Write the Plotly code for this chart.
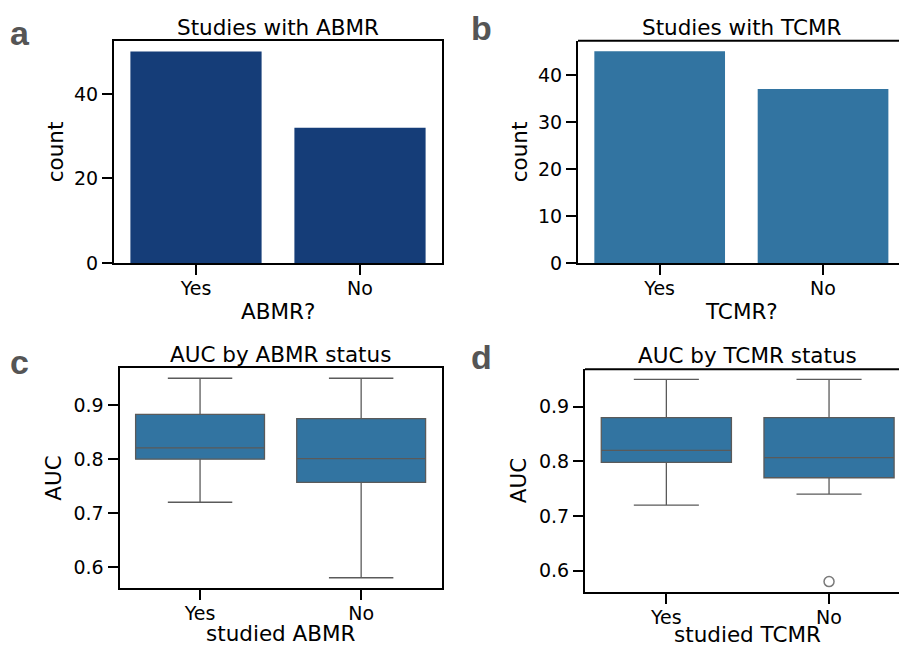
import plotly.graph_objects as go

# ---- data ----
abmr_categories = ["Yes", "No"]
abmr_counts = [50, 32]

tcmr_categories = ["Yes", "No"]
tcmr_counts = [45, 37]

# AUC summary statistics (lower whisker, Q1, median, Q3, upper whisker)
auc_abmr_groups = ["Yes", "No"]
auc_abmr_low = [0.72, 0.58]
auc_abmr_q1 = [0.80, 0.757]
auc_abmr_median = [0.821, 0.801]
auc_abmr_q3 = [0.883, 0.875]
auc_abmr_high = [0.95, 0.95]

auc_tcmr_groups = ["Yes", "No"]
auc_tcmr_low = [0.72, 0.74]
auc_tcmr_q1 = [0.798, 0.77]
auc_tcmr_median = [0.82, 0.807]
auc_tcmr_q3 = [0.88, 0.88]
auc_tcmr_high = [0.95, 0.95]
auc_tcmr_outlier_group = ["No"]
auc_tcmr_outlier_value = [0.58]

# ---- styling ----
W, H = 899, 648
FONT = "DejaVu Sans"
TICK_SIZE = 19
LABEL_SIZE = 21.5
DARK_BLUE = "#153d78"
MID_BLUE = "#3274a1"
LINE_GREY = "#5a5a5a"


def px_x(v):
    return v / W


def px_y(v):
    return 1 - v / H


fig = go.Figure()

# a: ABMR counts
fig.add_trace(go.Bar(x=abmr_categories, y=abmr_counts, marker=dict(color=DARK_BLUE, line=dict(width=0)),
                     width=0.8, xaxis="x", yaxis="y", showlegend=False))
# b: TCMR counts
fig.add_trace(go.Bar(x=tcmr_categories, y=tcmr_counts, marker=dict(color=MID_BLUE, line=dict(width=0)),
                     width=0.8, xaxis="x2", yaxis="y2", showlegend=False))
# c: AUC by ABMR status
fig.add_trace(go.Box(x=auc_abmr_groups, q1=auc_abmr_q1, median=auc_abmr_median, q3=auc_abmr_q3,
                     lowerfence=auc_abmr_low, upperfence=auc_abmr_high,
                     fillcolor=MID_BLUE, line=dict(color=LINE_GREY, width=1.3),
                     width=0.8, whiskerwidth=0.5, boxpoints=False,
                     xaxis="x3", yaxis="y3", showlegend=False))
# d: AUC by TCMR status
fig.add_trace(go.Box(x=auc_tcmr_groups, q1=auc_tcmr_q1, median=auc_tcmr_median, q3=auc_tcmr_q3,
                     lowerfence=auc_tcmr_low, upperfence=auc_tcmr_high,
                     fillcolor=MID_BLUE, line=dict(color=LINE_GREY, width=1.3),
                     width=0.8, whiskerwidth=0.5, boxpoints=False,
                     xaxis="x4", yaxis="y4", showlegend=False))
fig.add_trace(go.Scatter(x=auc_tcmr_outlier_group, y=auc_tcmr_outlier_value, mode="markers",
                         marker=dict(symbol="circle-open", size=10, color="#7a7a7a", line=dict(width=1.5)),
                         xaxis="x4", yaxis="y4", showlegend=False))

axis_common = dict(showline=True, linecolor="black", linewidth=2, ticks="outside", ticklen=10,
                   tickwidth=2, tickcolor="black", showgrid=False, zeroline=False, automargin=False,
                   tickfont=dict(family=FONT, size=TICK_SIZE, color="black"),
                   title_font=dict(family=FONT, size=LABEL_SIZE, color="black"))

# panel geometry (pixels): left, right, top, bottom
geo = {
    "a": (114, 442, 41, 263),
    "b": (578, 899, 40.7, 263.3),
    "c": (119.5, 441.7, 368.3, 587.7),
    "d": (585, 899, 369.3, 591.7),
}

layout = dict(
    width=W, height=H, margin=dict(l=0, r=0, t=0, b=0, autoexpand=False),
    paper_bgcolor="white", plot_bgcolor="white",
    font=dict(family=FONT, color="black"),
    bargap=0.2,
)

cat_order = dict(categoryorder="array", categoryarray=["Yes", "No"])
xtick_extra = dict(ticklabelstandoff=-3)

layout["xaxis"] = dict(axis_common, **cat_order, **xtick_extra, anchor="y", mirror=True,
                       domain=[px_x(geo["a"][0]), px_x(geo["a"][1])], range=[-0.5, 1.5])
layout["yaxis"] = dict(axis_common, anchor="x", mirror=True,
                       domain=[px_y(geo["a"][3]), px_y(geo["a"][2])], range=[0, 52.5],
                       tickvals=[0, 20, 40], title=dict(text="count", standoff=4))

layout["xaxis2"] = dict(axis_common, **cat_order, **xtick_extra, anchor="y2",
                        domain=[px_x(geo["b"][0]), 1.0], range=[-0.5, 1.465])
layout["yaxis2"] = dict(axis_common, anchor="x2",
                        domain=[px_y(geo["b"][3]), px_y(geo["b"][2])], range=[0, 47.25],
                        tickvals=[0, 10, 20, 30, 40], title=dict(text="count", standoff=4))

layout["xaxis3"] = dict(axis_common, **cat_order, **xtick_extra, anchor="y3", mirror=True,
                        domain=[px_x(geo["c"][0]), px_x(geo["c"][1])], range=[-0.5, 1.5])
layout["yaxis3"] = dict(axis_common, anchor="x3", mirror=True,
                        domain=[px_y(geo["c"][3]), px_y(geo["c"][2])], range=[0.5615, 0.9685],
                        tickvals=[0.6, 0.7, 0.8, 0.9], tickformat=".1f",
                        title=dict(text="AUC", standoff=6))

layout["xaxis4"] = dict(axis_common, **cat_order, **xtick_extra, anchor="y4",
                        domain=[px_x(geo["d"][0]), 1.0], range=[-0.5, 1.43])
layout["yaxis4"] = dict(axis_common, anchor="x4",
                        domain=[px_y(geo["d"][3]), px_y(geo["d"][2])], range=[0.5615, 0.9685],
                        tickvals=[0.6, 0.7, 0.8, 0.9], tickformat=".1f",
                        title=dict(text="AUC", standoff=6))

fig.update_layout(**layout)

# top spines for the panels that run off the right edge
for xa, ya in [("x2", "y2"), ("x4", "y4")]:
    fig.add_shape(type="line", xref=f"{xa} domain", yref=f"{ya} domain",
                  x0=0, x1=1, y0=1, y1=1, line=dict(color="black", width=2))

# panel titles
titles = [("Studies with ABMR", "x", "a"), ("Studies with TCMR", "x2", "b"),
          ("AUC by ABMR status", "x3", "c"), ("AUC by TCMR status", "x4", "d")]
for text, xa, key in titles:
    fig.add_annotation(text=text, xref=xa, x=0.5, yref="paper", y=px_y(geo[key][2]),
                       yanchor="bottom", xanchor="center", showarrow=False, yshift=-1,
                       font=dict(family=FONT, size=LABEL_SIZE, color="black"))

# x-axis titles, centred on each axis
xtitles = [("ABMR?", "x", 312), ("TCMR?", "x2", 312), ("studied ABMR", "x3", 633), ("studied TCMR", "x4", 634)]
for text, xa, ypix in xtitles:
    fig.add_annotation(text=text, xref=xa, x=0.5, yref="paper", y=px_y(ypix),
                       yanchor="middle", xanchor="center", showarrow=False,
                       font=dict(family=FONT, size=LABEL_SIZE, color="black"))

# panel letters
letters = [("a", 8, 33), ("b", 469, 28), ("c", 8, 362), ("d", 469, 357)]
for ch, lx, ly in letters:
    fig.add_annotation(text=f"<b>{ch}</b>", xref="paper", yref="paper",
                       x=px_x(lx), y=px_y(ly), xanchor="left", yanchor="middle", showarrow=False,
                       font=dict(family="Liberation Sans", size=34, color="#555555"))

fig.write_html("out.html")
